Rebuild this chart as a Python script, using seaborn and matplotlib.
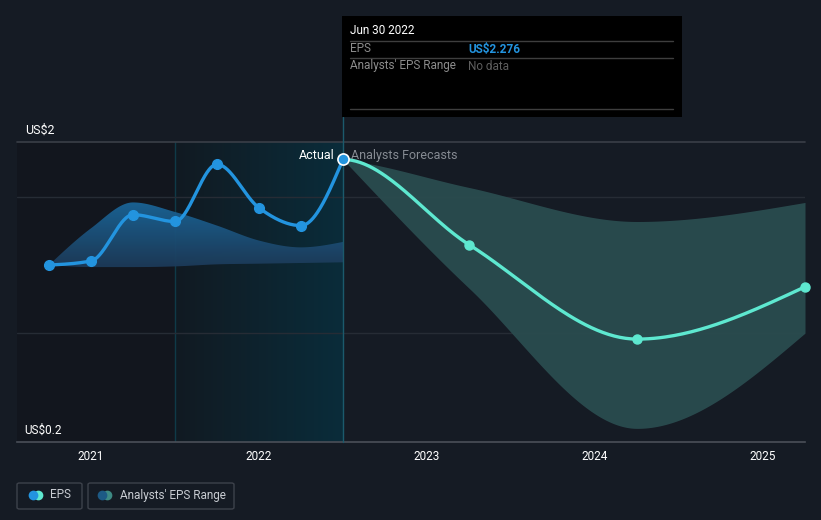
import numpy as np
import pandas as pd
import matplotlib.pyplot as plt
import seaborn as sns
from matplotlib.patches import Rectangle, FancyBboxPatch
from matplotlib.lines import Line2D
from matplotlib.colors import LinearSegmentedColormap

# EPS history (quarterly, decimal years) and analyst forecasts
past_dates = [2020.75, 2021.0, 2021.25, 2021.5, 2021.75, 2022.0, 2022.25, 2022.5]
past_eps = [1.50, 1.53, 1.87, 1.82, 2.24, 1.92, 1.79, 2.276]
past_high = [1.50, 1.77, 1.96, 1.89, 1.79, 1.68, 1.63, 1.67]
past_low = [1.50, 1.485, 1.485, 1.49, 1.505, 1.51, 1.515, 1.52]

fc_dates = [2022.5, 2023.25, 2024.25, 2025.25]
fc_eps = [2.276, 1.65, 0.956, 1.34]
fc_high = [2.276, 2.07, 1.82, 1.96]
fc_low = [2.276, 1.33, 0.30, 1.00]

year_ticks = [2021, 2022, 2023, 2024, 2025]
grid_values = [1.0, 2.0, 2.404]

BG = "#151b24"
BLUE = "#2394df"
TEAL = "#5ee8d0"


def monotone(x, y, n=60, start_slope=None):
    # monotone cubic curve (same idea as d3 curveMonotoneX)
    x = np.asarray(x, float)
    y = np.asarray(y, float)
    h = np.diff(x)
    s = np.diff(y) / h
    m = np.zeros(len(x))
    for i in range(1, len(x) - 1):
        if s[i - 1] * s[i] > 0:
            p = (s[i - 1] * h[i] + s[i] * h[i - 1]) / (h[i - 1] + h[i])
            m[i] = (np.sign(s[i - 1]) + np.sign(s[i])) * min(abs(s[i - 1]), abs(s[i]), 0.5 * abs(p))
    m[0] = (3 * s[0] - m[1]) / 2 if start_slope is None else start_slope
    m[-1] = (3 * s[-1] - m[-2]) / 2
    xs, ys = [], []
    for i in range(len(x) - 1):
        t = np.linspace(0, 1, n)
        h00 = 2 * t**3 - 3 * t**2 + 1
        h10 = t**3 - 2 * t**2 + t
        h01 = -2 * t**3 + 3 * t**2
        h11 = t**3 - t**2
        xs.append(x[i] + t * h[i])
        ys.append(h00 * y[i] + h10 * h[i] * m[i] + h01 * y[i + 1] + h11 * h[i] * m[i + 1])
    return np.concatenate(xs), np.concatenate(ys)


sns.set_style("dark")
plt.rcParams['font.family'] = ['Roboto', 'DejaVu Sans']

fig = plt.figure(figsize=(8.21, 5.20), dpi=100, facecolor=BG)
ax = fig.add_axes([17 / 821, 78 / 520, 788 / 821, 300 / 520])
ax.set_facecolor(BG)
x0, x1 = 2021 - 74 / 168, 2025.25
y0, y1 = 0.2, 2.404
ax.set_xlim(x0, x1)
ax.set_ylim(y0, y1)

# darker past region and highlighted last year
ax.axvspan(x0, 2021.5, color="#12161e", lw=0, zorder=0)
grad = LinearSegmentedColormap.from_list("hl", ["#111a22", "#0a2c3a"])
ax.imshow(np.linspace(0, 1, 100).reshape(1, -1), cmap=grad, aspect="auto",
          extent=[2021.5, 2022.5, y0, y1], zorder=0.5)
ax.axvline(2021.5, color="#0f3a48", lw=1, zorder=1)

for v in grid_values[:-1]:
    ax.axhline(v, color="#262c35", lw=1, zorder=1)
ax.axhline(grid_values[-1], color="#3a3f48", lw=1.2, zorder=1, clip_on=False)

# past analysts range with vertical gradient
hx, hy = monotone(past_dates, past_high)
lx, ly = monotone(past_dates, past_low)
poly = ax.fill_between(hx, ly, hy, color="none", lw=0)
pgrad = LinearSegmentedColormap.from_list("pb", ["#1d3a58", "#1a6699"])
img = ax.imshow(np.linspace(0, 1, 100).reshape(-1, 1), cmap=pgrad, aspect="auto",
                origin="lower", extent=[2020.7, 2022.5, 1.48, 1.97], zorder=2, alpha=0.95)
img.set_clip_path(poly.get_paths()[0], transform=ax.transData)
ax.set_xlim(x0, x1)
ax.set_ylim(y0, y1)

# forecast range
fhx, fhy = monotone(fc_dates, fc_high, start_slope=-0.15)
flx, fly = monotone(fc_dates, fc_low)
ax.fill_between(fhx, fly, fhy, color="#2a4c4f", lw=0, alpha=0.95, zorder=2)

# lines
px, py = monotone(past_dates, past_eps)
fx, fy = monotone(fc_dates, fc_eps, start_slope=0.0)
past_df = pd.DataFrame({"date": px, "eps": py})
fc_df = pd.DataFrame({"date": fx, "eps": fy})
sns.lineplot(data=past_df, x="date", y="eps", color=BLUE, lw=2.4, ax=ax, zorder=4)
sns.lineplot(data=fc_df, x="date", y="eps", color=TEAL, lw=2.4, ax=ax, zorder=4)
ax.plot(past_dates[:-1], past_eps[:-1], "o", color=BLUE, ms=7, zorder=5)
ax.plot(fc_dates[1:], fc_eps[1:], "o", color=TEAL, ms=6.5, zorder=5, clip_on=False)
ax.plot(past_dates[-1], past_eps[-1], "o", color=BLUE, mec="white", mew=1.2, ms=8, zorder=6)

# now line
ax.plot([2022.5, 2022.5], [y0, y1 + 25 / 136], color="#1b5a6c", lw=1, zorder=3, clip_on=False)

ax.text(2022.5 - 8 / 168, 2.276 + 4 / 136, "Actual", color="white", fontsize=9,
        ha="right", va="center", zorder=7)
ax.text(2022.5 + 8 / 168, 2.276 + 4 / 136, "Analysts Forecasts", color="#868b93", fontsize=9,
        ha="left", va="center", zorder=7)

# axes
for sp in ["top", "right", "left"]:
    ax.spines[sp].set_visible(False)
ax.spines["bottom"].set_color("#4a4f58")
ax.spines["bottom"].set_linewidth(1.2)
ax.set_xticks(year_ticks)
ax.set_xticklabels([str(y) for y in year_ticks])
ax.tick_params(axis="x", colors="#4a4f58", length=4, width=1, labelcolor="white",
               labelsize=8.5, pad=2)
ax.set_yticks([])
ax.set_xlabel("")
ax.set_ylabel("")
ax.grid(False)

fig.text(25 / 821, 1 - 130 / 520, "US$2", color="white", fontsize=9, va="center")
fig.text(24 / 821, 1 - 430 / 520, "US$0.2", color="white", fontsize=8.5, va="center")

# tooltip
def fx_(p):
    return p / 821


def fy_(p):
    return 1 - p / 520


fig.patches.append(Rectangle((fx_(342), fy_(117)), fx_(340), 101 / 520, transform=fig.transFigure,
                             facecolor="black", edgecolor="none", zorder=10))
for yy in [41, 58, 109]:
    fig.lines.append(Line2D([fx_(350), fx_(673)], [fy_(yy), fy_(yy)], transform=fig.transFigure,
                            color="#3e3e3e", lw=1, zorder=11))
fig.text(fx_(350), fy_(31), "Jun 30 2022", color="white", fontsize=8.5, va="center", zorder=12)
fig.text(fx_(350), fy_(49), "EPS", color="#8c8c8c", fontsize=8.5, va="center", zorder=12)
fig.text(fx_(468), fy_(49), "US$2.276", color=BLUE, fontsize=8.5, va="center",
         fontweight="bold", zorder=12)
fig.text(fx_(350), fy_(66), "Analysts' EPS Range", color="#8c8c8c", fontsize=8.5, va="center", zorder=12)
fig.text(fx_(468), fy_(66), "No data", color="#5e5e5e", fontsize=8.5, va="center", zorder=12)

# legend
for (l, r) in [(17, 82), (88, 234)]:
    fig.patches.append(FancyBboxPatch((fx_(l), fy_(509)), fx_(r - l), 26 / 520,
                                      boxstyle="round,pad=0,rounding_size=0.003",
                                      transform=fig.transFigure, facecolor="none",
                                      edgecolor="#3d424b", lw=1))
for cx, c1, c2, label, tx in [(33, BLUE, TEAL, "EPS", 50),
                              (102, "#1d5a85", "#3d8a84", "Analysts' EPS Range", 120)]:
    fig.lines.append(Line2D([fx_(cx + 5)], [fy_(495)], transform=fig.transFigure, marker="o",
                            ms=7, color=c2, mec="none"))
    fig.lines.append(Line2D([fx_(cx)], [fy_(495)], transform=fig.transFigure, marker="o",
                            ms=7, color=c1, mec="none"))
    fig.text(fx_(tx), fy_(495), label, color="#c8ccd2", fontsize=8.5, va="center")

fig.savefig("out.png", dpi=100, facecolor=BG)
